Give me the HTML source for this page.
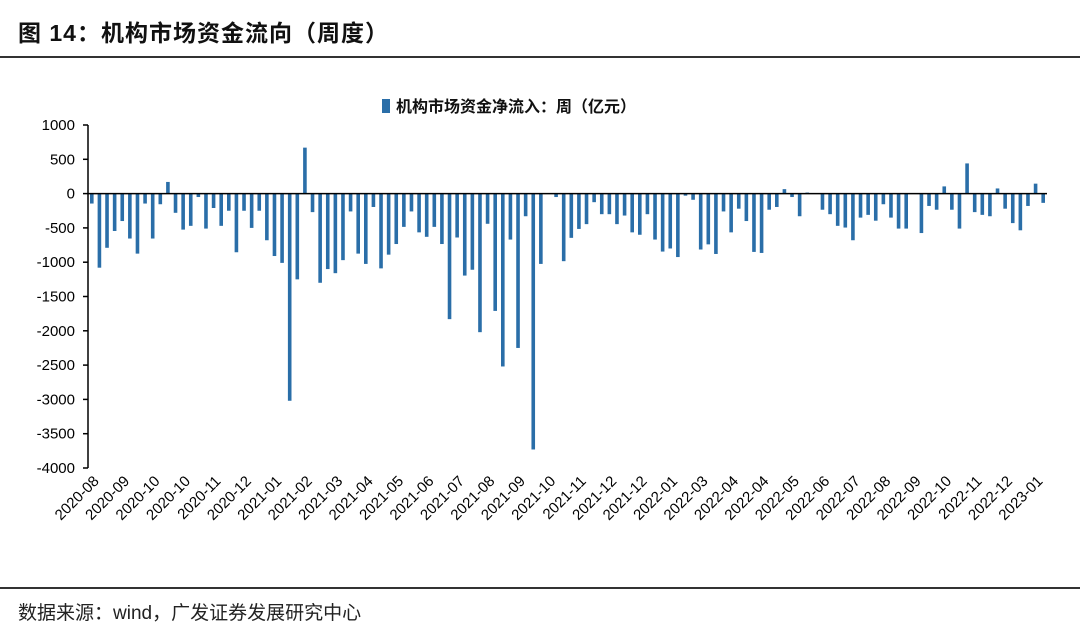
<!DOCTYPE html>
<html><head><meta charset="utf-8"><style>
body{margin:0;width:1080px;height:644px;background:#fff;font-family:"Liberation Sans","Noto Sans CJK SC",sans-serif;overflow:hidden;position:relative}
.t{position:absolute;left:18px;top:14px;font-size:23px;font-weight:bold;color:#111;letter-spacing:1px}
.hl{position:absolute;left:0;width:1080px;height:2px;background:#333}
.src{position:absolute;left:18px;top:598px;font-size:19px;color:#222}
</style></head><body>
<div class="t">图 14：机构市场资金流向（周度）</div>
<div class="hl" style="top:56px"></div>
<div class="hl" style="top:587px"></div>
<div class="src">数据来源：wind，广发证券发展研究中心</div>
<svg id="c" width="1080" height="644" style="position:absolute;left:0;top:0"></svg>
<script>
const values=[-145,-1080,-790,-545,-400,-655,-875,-145,-655,-155,170,-280,-525,-470,-50,-510,-210,-470,-250,-855,-250,-500,-250,-680,-910,-1010,-3020,-1250,670,-270,-1300,-1100,-1160,-970,-260,-875,-1025,-195,-1090,-890,-735,-485,-260,-565,-630,-485,-735,-1830,-640,-1195,-1110,-2020,-440,-1710,-2520,-670,-2250,-330,-3730,-1025,0,-50,-985,-645,-515,-445,-125,-300,-300,-445,-320,-565,-600,-300,-670,-845,-800,-925,-30,-90,-815,-740,-880,-260,-565,-220,-400,-850,-865,-235,-195,65,-50,-330,15,0,-235,-300,-470,-495,-680,-350,-310,-395,-155,-350,-510,-510,0,-575,-180,-235,105,-235,-510,440,-270,-310,-330,75,-220,-430,-535,-180,145,-135];
const xLabels=["2020-08","2020-09","2020-10","2020-10","2020-11","2020-12","2021-01","2021-02","2021-03","2021-04","2021-05","2021-06","2021-07","2021-08","2021-09","2021-10","2021-11","2021-12","2021-12","2022-01","2022-03","2022-04","2022-04","2022-05","2022-06","2022-07","2022-08","2022-09","2022-10","2022-11","2022-12","2023-01"];
const yTicks=[1000,500,0,-500,-1000,-1500,-2000,-2500,-3000,-3500,-4000];
const NS="http://www.w3.org/2000/svg";
const svg=document.getElementById('c');
const X0=88,X1=1047,Ytop=125,Ybot=468,vmax=1000,vmin=-4000;
const y=v=>Ytop+(vmax-v)/(vmax-vmin)*(Ybot-Ytop);
const bw=(X1-X0)/values.length;
const x=i=>X0+bw*(i+0.5);
function mk(t,a){const e=document.createElementNS(NS,t);for(const k in a)e.setAttribute(k,a[k]);svg.appendChild(e);return e;}
yTicks.forEach(v=>{
 const tk=mk('line',{x1:X0-5,x2:X0,y1:y(v),y2:y(v),stroke:'#000','stroke-width':1.5});
 
 
 const t=mk('text',{x:75,y:y(v)+5,'text-anchor':'end','font-size':15,fill:'#000','font-family':'Liberation Sans, sans-serif'});
 t.textContent=v;
 
 
});
values.forEach((v,i)=>{
 const r=mk('rect',{x:x(i)-1.8,width:3.6,y:Math.min(y(v),y(0)),height:Math.abs(y(v)-y(0)),fill:'#2a6ea8'});
 
 
});
const ax=mk('line',{x1:X0,x2:X0,y1:Ytop,y2:Ybot,stroke:'#000','stroke-width':1.5});


const zl=mk('line',{x1:X0,x2:X1,y1:y(0),y2:y(0),stroke:'#000','stroke-width':1.5});


xLabels.forEach((s,j)=>{
 const cx=x(j*4)+8, cy=482;
 const t=mk('text',{x:cx,y:cy,'text-anchor':'end','font-size':15,fill:'#000','font-family':'Liberation Sans, sans-serif',transform:`rotate(-45 ${cx} ${cy})`});
 t.textContent=s;
 
 
});
const lg=mk('rect',{x:382,y:99,width:8,height:14,fill:'#2a6ea8'});


const lt=mk('text',{x:396,y:112,'font-size':16,'font-weight':'bold',fill:'#111','font-family':'Liberation Sans, Noto Sans CJK SC, sans-serif'});
lt.textContent='机构市场资金净流入：周（亿元）';


</script>
</body></html>
